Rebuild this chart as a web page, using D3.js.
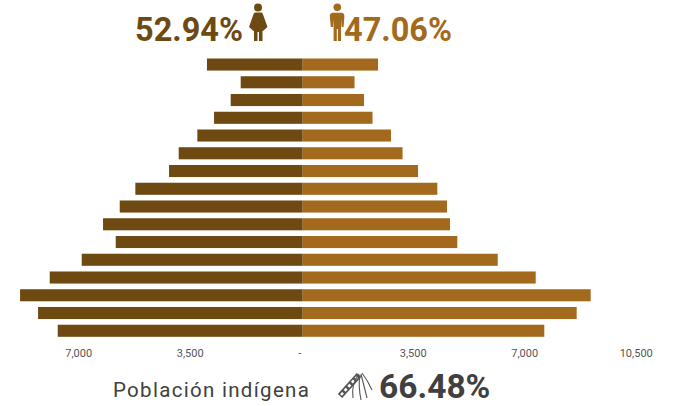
<!DOCTYPE html>
<html>
<head>
<meta charset="utf-8">
<script src="https://cdn.jsdelivr.net/npm/d3@7"></script>
<style>
  html, body { margin: 0; padding: 0; background: #fff; }
  svg { display: block; font-family: Roboto, sans-serif; }
</style>
</head>
<body>
<script>
/* global d3 */

// age groups, oldest on top
const groups = ["85+", "80-84", "75-79", "70-74", "65-69", "60-64", "55-59", "50-54",
  "45-49", "40-44", "35-39", "30-34", "25-29", "20-24", "15-19", "10-14"];
const women = [3005, 1946, 2260, 2783, 3307, 3892, 4196, 5253,
  5743, 6267, 5869, 6936, 7941, 8872, 8307, 7690];
const men = [2365, 1627, 1925, 2192, 2773, 3134, 3620, 4226,
  4530, 4624, 4853, 6122, 7314, 9040, 8600, 7584];
const tickValues = [-7000, -3500, 0, 3500, 7000, 10500];
const shareWomen = "52.94%";
const shareMen = "47.06%";
const shareIndigenous = "66.48%";
const indigenousLabel = "Población indígena";

const dark = "#6e4912", light = "#a3691d", grey = "#404040";

const svg = d3.select("body").append("svg")
  .attr("width", 673)
  .attr("height", 406);

const x = d3.scaleLinear().domain([-10500, 10500]).range([-31.8, 637.2]);
const y = d3.scaleBand().domain(groups).range([58.5, 336.8]).paddingInner(0.32);

svg.append("g").selectAll("rect")
  .data(women)
  .join("rect")
  .attr("x", d => x(-d))
  .attr("y", (d, i) => y(groups[i]))
  .attr("width", d => x(0) - x(-d))
  .attr("height", y.bandwidth())
  .attr("fill", dark);

svg.append("g").selectAll("rect")
  .data(men)
  .join("rect")
  .attr("x", x(0))
  .attr("y", (d, i) => y(groups[i]))
  .attr("width", d => x(d) - x(0))
  .attr("height", y.bandwidth())
  .attr("fill", light);

const axis = d3.axisBottom(x)
  .tickValues(tickValues)
  .tickSize(0)
  .offset(0)
  .tickFormat(d => d === 0 ? "-" : d3.format(",")(Math.abs(d)));

const gAxis = svg.append("g")
  .attr("transform", "translate(-1,346)")
  .call(axis);
gAxis.select(".domain").remove();
gAxis.selectAll("text")
  .attr("font-family", "Roboto, sans-serif")
  .attr("font-size", 11)
  .attr("fill", "#555")
  .attr("dx", d => d === 0 ? -2 : 0);

// headline shares
function label(text, px, py, size, weight, fill, anchor) {
  return svg.append("text")
    .attr("x", px).attr("y", py)
    .attr("font-size", size)
    .attr("font-weight", weight)
    .attr("fill", fill)
    .attr("text-anchor", anchor || "start")
    .text(text);
}
label(shareWomen, 135, 41, 32.5, 700, dark);
label(shareMen, 344, 41, 32.5, 700, light);
label(shareIndigenous, 379, 398, 33.5, 700, grey);
label(indigenousLabel, 113, 397, 20.5, 400, grey).attr("letter-spacing", 1.3);

// woman pictogram
const woman = svg.append("g").attr("fill", dark);
woman.append("circle").attr("cx", 258).attr("cy", 7.5).attr("r", 4);
woman.append("path").attr("d",
  "M255 12.5 L261.5 12.5 Q262.8 13 263.2 15 L267.5 27 L263 31 L262.5 31 L262.5 41 L259 41 L259 32 L257.5 32 L257.5 41 L254 41 L254 31 L253.5 31 L249 27 L253.2 15 Q253.7 13 255 12.5 Z");

// man pictogram
const man = svg.append("g").attr("fill", light);
man.append("circle").attr("cx", 337.3).attr("cy", 7.2).attr("r", 3.8);
man.append("path").attr("d",
  "M332.5 12.7 L342 12.7 Q344.4 13.2 344.4 16 L343.6 27 L341.6 27 L341 19 L341 41 L337.9 41 L337.9 29 L336.8 29 L336.8 41 L333.6 41 L333.6 19 L333 27 L330.8 27 L329.8 16 Q329.8 13.2 332.5 12.7 Z");

// digging stick pictogram beside the indigenous share
const tool = svg.append("g").attr("fill", "none").attr("stroke", "#555");
tool.append("path").attr("stroke-width", 6).attr("d", "M340 396 L359 375");
tool.append("path").attr("stroke-width", 2.6).attr("stroke", "#fff").attr("stroke-dasharray", "3 2.5").attr("d", "M341 395 L357 377");
tool.append("path").attr("stroke-width", 1.1).attr("d",
  "M359 374 Q351 384 353 398 M360 375 Q358 385 361 400 M361 374 Q364 386 367 398 M362 373 Q368 381 372 390");
</script>
</body>
</html>
